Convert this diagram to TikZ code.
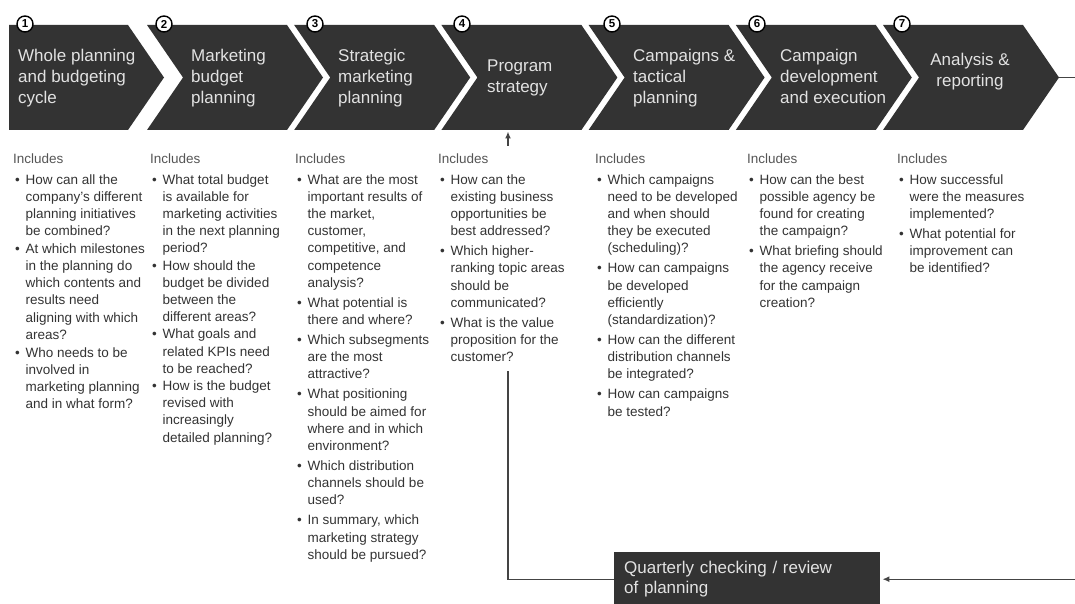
\documentclass[tikz,border=0pt]{standalone}
\usepackage{fontspec}
\setmainfont{Liberation Sans}
\usetikzlibrary{arrows.meta}
\definecolor{chev}{HTML}{333333}
\definecolor{chevtxt}{HTML}{E2E2E2}
\definecolor{bodytxt}{HTML}{333333}
\definecolor{inctxt}{HTML}{555555}
\definecolor{linec}{HTML}{444444}
\newcommand{\bu}{\makebox[12.5pt][l]{\hspace{2pt}\textbullet}}
\newcommand{\ct}{\makebox[12.5pt]{}}
\newcommand{\inc}{{\color{inctxt}Includes}}
\begin{document}
\begin{tikzpicture}[x=1pt,y=-1pt,
 chevshape/.style={fill=chev},
 chevlabel/.style={text=chevtxt, font=\fontsize{17}{21}\selectfont, align=left, inner sep=0pt, anchor=base west},
 numcirc/.style={circle, draw=black, fill=white, line width=1.4pt, minimum size=16pt, inner sep=0pt, font=\fontsize{11.5}{11.5}\selectfont\bfseries},
 colnode/.style={text=bodytxt, font=\fontsize{13.5}{17.2}\selectfont, align=left, inner sep=0pt, anchor=base west},
 qbox/.style={fill=chev, text=chevtxt, font=\fontsize{17}{20.5}\selectfont, align=left, anchor=north west, text width=246pt, inner xsep=10pt, inner ysep=0pt, minimum width=266pt, minimum height=54pt},
 loopline/.style={draw=linec, line width=1.4pt},
 looparrow/.style={loopline, -{Latex[length=7pt,width=6pt]}},
]
\useasboundingbox (0,0) rectangle (1075,604);
\clip (0,0) rectangle (1075,604);

% chevrons
\fill[chevshape] (9,25) -- (128,25) -- (164,77.5) -- (128,130) -- (9,130) -- cycle;
\foreach \L in {147,294.2,441.4,588.6,735.8,883}{
  \fill[chevshape] (\L,25) -- ++(140,0) -- ++(36,52.5) -- ++(-36,52.5) -- ++(-140,0) -- ++(36,-52.5) -- cycle;
}

% chevron labels (anchor = baseline of last line)
\node[chevlabel] (t1) at (18,104) {Whole planning\\and budgeting\\cycle};
\node[chevlabel] (t2) at (191,104) {Marketing\\budget\\planning};
\node[chevlabel] (t3) at (338,104) {Strategic\\marketing\\planning};
\node[chevlabel] (t4) at (487,93) {Program\\strategy};
\node[chevlabel] (t5) at (633,104) {Campaigns \&\\tactical\\planning};
\node[chevlabel] (t6) at (780,104) {Campaign\\development\\and execution};
\node[chevlabel, align=center, anchor=base] (t7) at (970,86.5) {Analysis \&\\reporting};

% number circles
\node[numcirc] (n1) at (25,24) {1};
\node[numcirc] (n2) at (164,24) {2};
\node[numcirc] (n3) at (315,24) {3};
\node[numcirc] (n4) at (462,24) {4};
\node[numcirc] (n5) at (612,24) {5};
\node[numcirc] (n6) at (757,24) {6};
\node[numcirc] (n7) at (902,24) {7};

% columns (anchor = baseline of last line)
\node[colnode] (col1) at (13,408.6) {\inc\\[3.3pt]
\bu How can all the\\ \ct company's different\\ \ct planning initiatives\\ \ct be combined?\\[0.5pt]
\bu At which milestones\\ \ct in the planning do\\ \ct which contents and\\ \ct results need\\ \ct aligning with which\\ \ct areas?\\[0.5pt]
\bu Who needs to be\\ \ct involved in\\ \ct marketing planning\\ \ct and in what form?};

\node[colnode] (col2) at (150,442) {\inc\\[3.3pt]
\bu What total budget\\ \ct is available for\\ \ct marketing activities\\ \ct in the next planning\\ \ct period?\\
\bu How should the\\ \ct budget be divided\\ \ct between the\\ \ct different areas?\\
\bu What goals and\\ \ct related KPIs need\\ \ct to be reached?\\
\bu How is the budget\\ \ct revised with\\ \ct increasingly\\ \ct detailed planning?};

\node[colnode] (col3) at (295,559.2) {\inc\\[3.3pt]
\bu What are the most\\ \ct important results of\\ \ct the market,\\ \ct customer,\\ \ct competitive, and\\ \ct competence\\ \ct analysis?\\[2.8pt]
\bu What potential is\\ \ct there and where?\\[2.8pt]
\bu Which subsegments\\ \ct are the most\\ \ct attractive?\\[2.8pt]
\bu What positioning\\ \ct should be aimed for\\ \ct where and in which\\ \ct environment?\\[2.8pt]
\bu Which distribution\\ \ct channels should be\\ \ct used?\\[2.8pt]
\bu In summary, which\\ \ct marketing strategy\\ \ct should be pursued?};

\node[colnode] (col4) at (438,361.6) {\inc\\[3.3pt]
\bu How can the\\ \ct existing business\\ \ct opportunities be\\ \ct best addressed?\\[2.8pt]
\bu Which higher-\\ \ct ranking topic areas\\ \ct should be\\ \ct communicated?\\[2.8pt]
\bu What is the value\\ \ct proposition for the\\ \ct customer?};

\node[colnode] (col5) at (595,416) {\inc\\[3.3pt]
\bu Which campaigns\\ \ct need to be developed\\ \ct and when should\\ \ct they be executed\\ \ct (scheduling)?\\[2.8pt]
\bu How can campaigns\\ \ct be developed\\ \ct efficiently\\ \ct (standardization)?\\[2.8pt]
\bu How can the different\\ \ct distribution channels\\ \ct be integrated?\\[2.8pt]
\bu How can campaigns\\ \ct be tested?};

\node[colnode] (col6) at (747,307.2) {\inc\\[3.3pt]
\bu How can the best\\ \ct possible agency be\\ \ct found for creating\\ \ct the campaign?\\[2.8pt]
\bu What briefing should\\ \ct the agency receive\\ \ct for the campaign\\ \ct creation?};

\node[colnode] (col7) at (897,272.8) {\inc\\[3.3pt]
\bu How successful\\ \ct were the measures\\ \ct implemented?\\[2.8pt]
\bu What potential for\\ \ct improvement can\\ \ct be identified?};

% review box and feedback loop
\node[qbox] (q) at (614,552) {Quarterly checking / review\\of planning};
\coordinate (c7tip) at (1059,77.5);
\coordinate (redge) at (1090,77.5);
\coordinate (vtop) at (508,371);
\coordinate (atail) at (508,146);
\coordinate (c4bot) at (508,130);
\draw[looparrow, shorten >=2pt] (c7tip) -- (redge) |- (q.east);
\draw[loopline] (q.west) -| (vtop);
\draw[looparrow, shorten >=1.5pt] (atail) -- (c4bot);
\end{tikzpicture}
\end{document}
